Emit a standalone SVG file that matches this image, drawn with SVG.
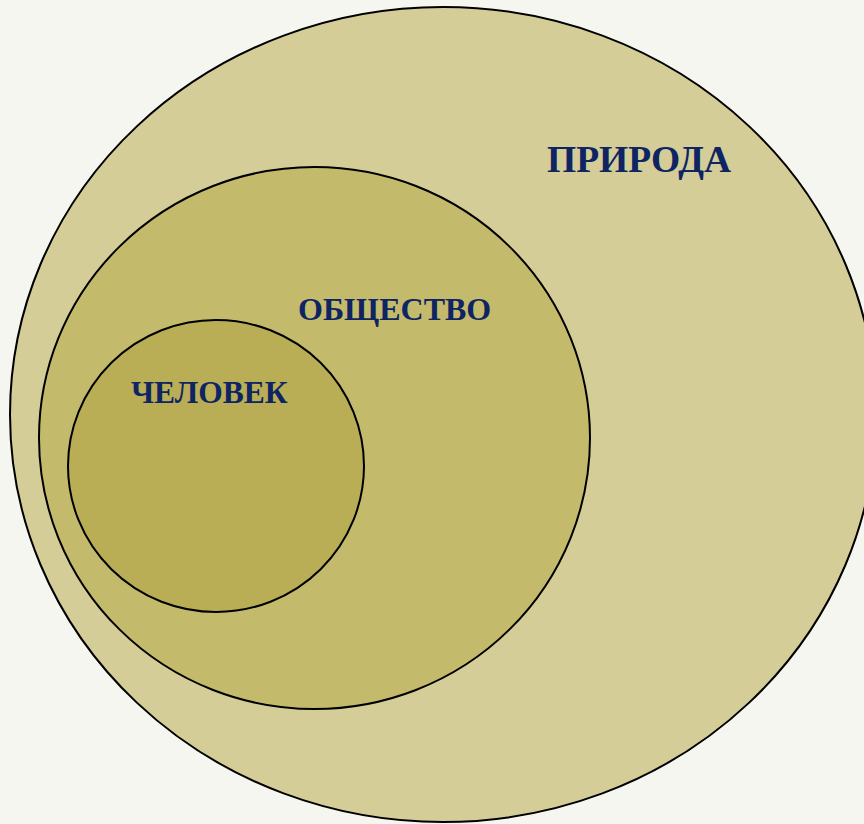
<svg xmlns="http://www.w3.org/2000/svg" width="864" height="824" viewBox="0 0 864 824">
<style>
.c{stroke:#000;stroke-width:2}
.t{font-family:"Liberation Serif","Times New Roman",serif;font-weight:bold;fill:#0f2462}
</style>
<rect width="864" height="824" fill="#f6f6f1"/>
<g id="priroda">
<ellipse class="c" cx="443" cy="414.5" rx="433" ry="407.5" fill="#d4cd97"/>
<text class="t" x="547" y="172" font-size="37.5">ПРИРОДА</text>
</g>
<g id="obshchestvo">
<ellipse class="c" cx="314.5" cy="438" rx="275.5" ry="271" fill="#c4ba6c"/>
<text class="t" x="298" y="320" font-size="32">ОБЩЕСТВО</text>
</g>
<g id="chelovek">
<ellipse class="c" cx="216" cy="466" rx="148" ry="146" fill="#b9ae55"/>
<text class="t" x="131" y="403" font-size="31.5">ЧЕЛОВЕК</text>
</g>
<g id="connectors"/>
</svg>
